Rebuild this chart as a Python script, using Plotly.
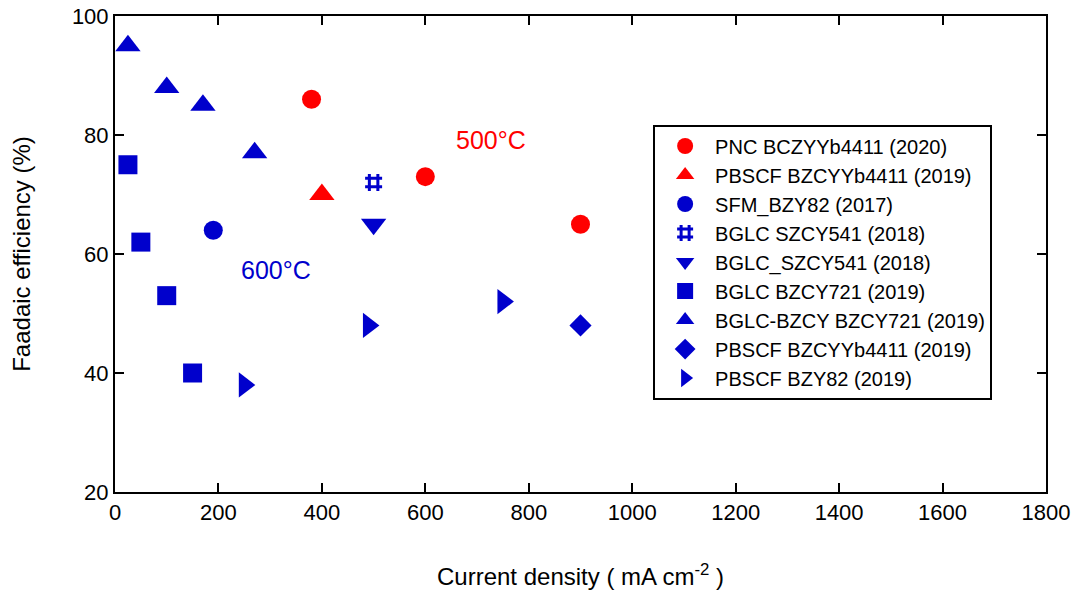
import plotly.graph_objects as go

# Faradaic efficiency vs current density for reported cells
series_names = [
    "PNC BCZYYb4411 (2020)",
    "PBSCF BZCYYb4411 (2019)",
    "SFM_BZY82 (2017)",
    "BGLC SZCY541 (2018)",
    "BGLC_SZCY541 (2018)",
    "BGLC BZCY721 (2019)",
    "BGLC-BZCY BZCY721 (2019)",
    "PBSCF BZCYYb4411 (2019)",
    "PBSCF BZY82 (2019)",
]
current_density = [
    [380, 600, 900],
    [400],
    [190],
    [500],
    [500],
    [25, 50, 100, 150],
    [25, 100, 170, 270],
    [900],
    [250, 490, 750],
]
efficiency = [
    [86, 73, 65],
    [70],
    [64],
    [72],
    [65],
    [75, 62, 53, 40],
    [95, 88, 85, 77],
    [48],
    [38, 48, 52],
]

RED = "#ff0000"
BLUE = "#0000cc"
colors = [RED, RED, BLUE, BLUE, BLUE, BLUE, BLUE, BLUE, BLUE]
symbols = ["circle", "triangle-up", "circle", "hash", "triangle-down",
           "square", "triangle-up", "diamond", "triangle-right"]
sizes = [19, 22, 19, 17, 22, 19, 22, 17, 22]

fig = go.Figure()
for i, (name, xs, ys, c, s, sz) in enumerate(zip(series_names, current_density,
                                                 efficiency, colors, symbols, sizes)):
    if s == "hash":
        marker = dict(symbol=s, size=sz, color=c, line=dict(color=c, width=3))
    else:
        marker = dict(symbol=s, size=sz, color=c, line=dict(width=0))
    fig.add_trace(go.Scatter(x=xs, y=ys, mode="markers", name=name,
                             marker=marker, legendgroup=f"g{i}"))

fig.add_annotation(x=727, y=79.2, text="500°C", showarrow=False,
                   font=dict(size=25, color=RED, family="Liberation Sans"))
fig.add_annotation(x=311, y=57.3, text="600°C", showarrow=False,
                   font=dict(size=25, color=BLUE, family="Liberation Sans"))

axis_common = dict(
    showline=True, linecolor="black", linewidth=2, mirror="ticks",
    ticks="inside", ticklen=9, tickwidth=2, tickcolor="black",
    showgrid=False, zeroline=False, automargin=False,
    tickfont=dict(size=22, color="black", family="Liberation Sans"),
)

fig.update_layout(
    width=1076, height=596,
    margin=dict(l=115, r=30, t=16, b=104),
    paper_bgcolor="white", plot_bgcolor="white",
    font=dict(family="Liberation Sans", color="black"),
    showlegend=True,
    legend=dict(
        x=0.578, y=0.772, xanchor="left", yanchor="top",
        bordercolor="black", borderwidth=2, bgcolor="white",
        font=dict(size=20, color="black", family="Liberation Sans"),
        itemwidth=50, tracegroupgap=0,
    ),
    xaxis=dict(range=[0, 1800], dtick=200, **axis_common,
               title=dict(text="Current density ( mA cm<sup>-2</sup> )",
                          font=dict(size=24), standoff=44)),
    yaxis=dict(range=[20, 100], dtick=20, **axis_common,
               title=dict(text="Faadaic efficiency (%)",
                          font=dict(size=24), standoff=34)),
)

fig.write_html("out.html")
